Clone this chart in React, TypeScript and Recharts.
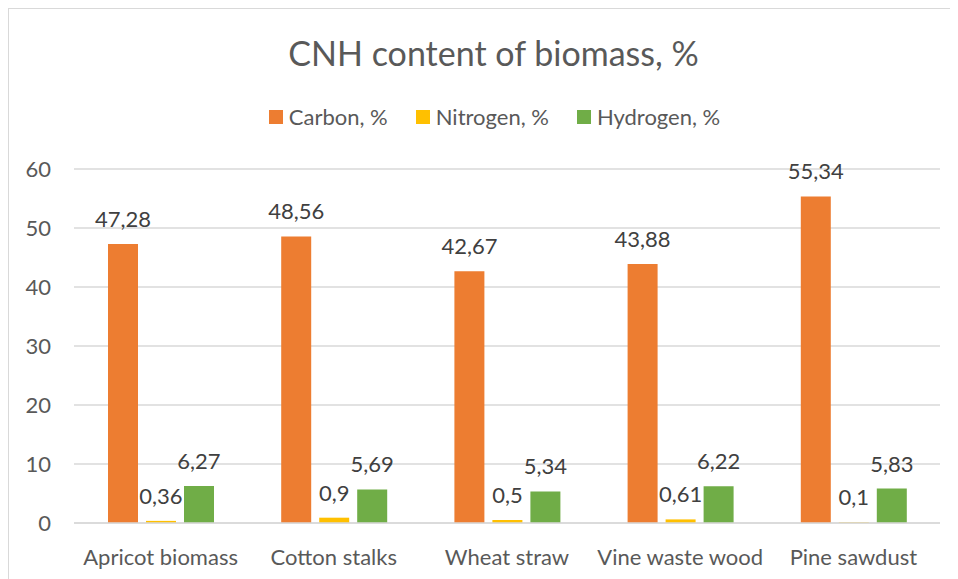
import React from "react"
import { BarChart, Bar, XAxis, YAxis, CartesianGrid, Legend, LabelList } from "recharts"

const categories = ["Apricot biomass", "Cotton stalks", "Wheat straw", "Vine waste wood", "Pine sawdust"]
const carbon = [47.28, 48.56, 42.67, 43.88, 55.34]
const nitrogen = [0.36, 0.9, 0.5, 0.61, 0.1]
const hydrogen = [6.27, 5.69, 5.34, 6.22, 5.83]
const yTicks = [0, 10, 20, 30, 40, 50, 60]
const seriesOrder = ["carbon", "nitrogen", "hydrogen"]

const data = categories.map((name, i) => ({
  name,
  carbon: carbon[i],
  nitrogen: nitrogen[i],
  hydrogen: hydrogen[i],
}))

const FONT = "Lato, 'Noto Sans', sans-serif"
const fmt = (v: any) => String(v).replace(".", ",")

function LegendContent({ payload }: any) {
  const items = [...(payload || [])].sort(
    (a: any, b: any) => seriesOrder.indexOf(a.dataKey) - seriesOrder.indexOf(b.dataKey)
  )
  return (
    <div
      style={{
        display: "flex",
        justifyContent: "center",
        alignItems: "center",
        height: 26,
        lineHeight: "26px",
        paddingLeft: 22,
        fontFamily: FONT,
        fontSize: 22,
        color: "#595959",
      }}
    >
      {items.map((p: any, i: number) => (
        <div key={i} style={{ display: "flex", alignItems: "center", marginRight: i < items.length - 1 ? 28 : 0 }}>
          <span style={{ width: 14, height: 14, background: p.color, display: "inline-block", marginRight: 6 }} />
          <span>{p.value}</span>
        </div>
      ))}
    </div>
  )
}

export default function App() {
  return (
    <div
      style={{
        position: "relative",
        width: 950,
        height: 571,
        borderTop: "1px solid #d9d9d9",
        borderLeft: "1px solid #d9d9d9",
        background: "#fff",
        fontFamily: FONT,
      }}
    >
      <div
        style={{
          position: "absolute",
          top: 24,
          left: 10,
          width: 949,
          textAlign: "center",
          fontSize: 34,
          color: "#595959",
          lineHeight: "40px",
        }}
      >
        CNH content of biomass, %
      </div>
      <BarChart
        width={949}
        height={570}
        data={data}
        margin={{ top: 134, right: 18, bottom: 0, left: 0 }}
        barGap={8}
      >
        <CartesianGrid vertical={false} stroke="#d9d9d9" strokeWidth={1.5} />
        <XAxis
          dataKey="name"
          height={56}
          axisLine={{ stroke: "#d9d9d9", strokeWidth: 1.5 }}
          tickLine={false}
          tickMargin={20}
          interval={0}
          tick={{ fill: "#595959", fontSize: 22, fontFamily: FONT }}
        />
        <YAxis
          width={65}
          domain={[0, 60]}
          ticks={yTicks}
          axisLine={false}
          tickLine={false}
          tickMargin={17}
          tick={{ fill: "#595959", fontSize: 22, fontFamily: FONT }}
        />
        <Legend
          verticalAlign="top"
          content={<LegendContent />}
          wrapperStyle={{ top: 95, left: 0, width: 949, height: 26 }}
        />
        <Bar dataKey="carbon" name="Carbon, %" fill="#ED7D31" barSize={30} isAnimationActive={false}>
          <LabelList dataKey="carbon" position="top" offset={17} formatter={fmt} fill="#404040" fontSize={22} fontFamily={FONT} />
        </Bar>
        <Bar dataKey="nitrogen" name="Nitrogen, %" fill="#FFC000" barSize={30} isAnimationActive={false}>
          <LabelList dataKey="nitrogen" position="top" offset={17} formatter={fmt} fill="#404040" fontSize={22} fontFamily={FONT} />
        </Bar>
        <Bar dataKey="hydrogen" name="Hydrogen, %" fill="#70AD47" barSize={30} isAnimationActive={false}>
          <LabelList dataKey="hydrogen" position="top" offset={17} formatter={fmt} fill="#404040" fontSize={22} fontFamily={FONT} />
        </Bar>
      </BarChart>
    </div>
  )
}
